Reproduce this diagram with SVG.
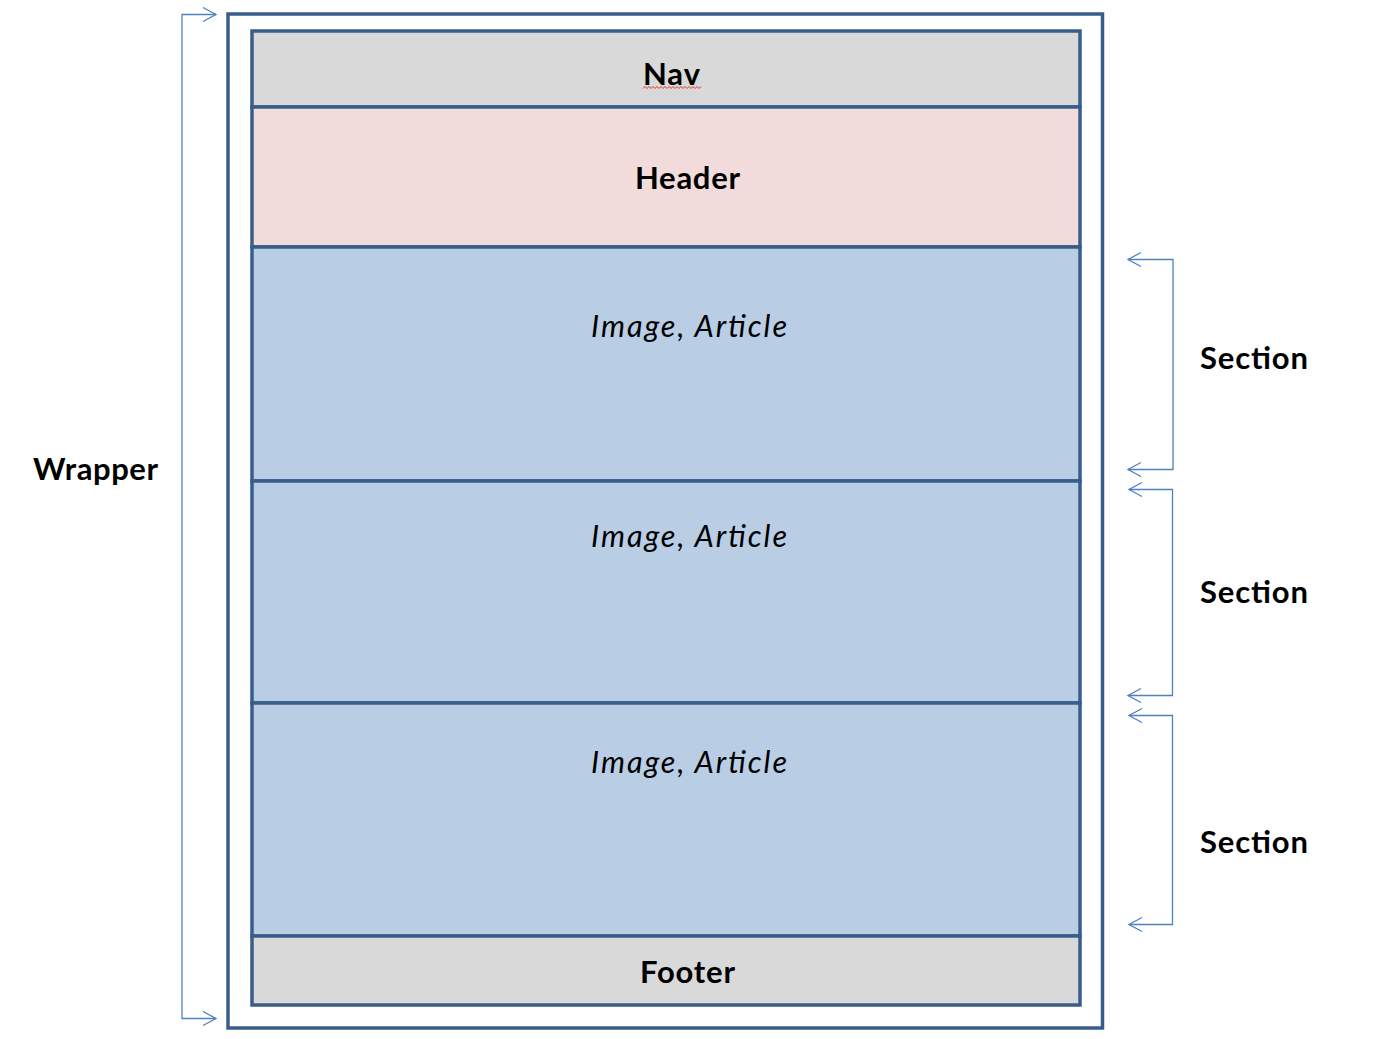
<svg xmlns="http://www.w3.org/2000/svg" width="1392" height="1039" viewBox="0 0 1392 1039">
  <style>
    .box { stroke: #385d8a; stroke-width: 3.5; }
    .gray { fill: #d9d9d9; }
    .pink { fill: #f2dcdb; }
    .blue { fill: #b9cde5; }
    .lbl { font-family: Lato, "Liberation Sans", sans-serif; font-size: 31px; font-weight: bold; fill: #000; }
    .ital { font-family: Lato, "Liberation Sans", sans-serif; font-size: 30.5px; font-style: italic; fill: #000; }
    .br { fill: none; stroke: #4f81bd; stroke-width: 1.3; }
  </style>
  <rect width="1392" height="1039" fill="#ffffff"/>
  <g id="wrapper">
    <rect class="box" x="228" y="14" width="874.5" height="1014" fill="#ffffff"/>
  </g>
  <g id="nav">
    <rect class="box gray" x="252" y="31" width="828" height="76"/>
    <text class="lbl" x="643" y="85" textLength="57" lengthAdjust="spacing">Nav</text>
    <path d="M643 88.5 l2 -2 l2 2 l2 -2 l2 2 l2 -2 l2 2 l2 -2 l2 2 l2 -2 l2 2 l2 -2 l2 2 l2 -2 l2 2 l2 -2 l2 2 l2 -2 l2 2 l2 -2 l2 2 l2 -2 l2 2 l2 -2 l2 2 l2 -2 l2 2 l2 -2 l2 2 l2 -2" fill="none" stroke="#e03030" stroke-width="1"/>
  </g>
  <g id="header">
    <rect class="box pink" x="252" y="107" width="828" height="140"/>
    <text class="lbl" x="635" y="189" textLength="105" lengthAdjust="spacing">Header</text>
  </g>
  <g id="section1">
    <rect class="box blue" x="252" y="247" width="828" height="234"/>
    <text class="ital" x="591" y="336.5" textLength="196" lengthAdjust="spacing">Image, Article</text>
  </g>
  <g id="section2">
    <rect class="box blue" x="252" y="481" width="828" height="222"/>
    <text class="ital" x="591" y="546.5" textLength="196" lengthAdjust="spacing">Image, Article</text>
  </g>
  <g id="section3">
    <rect class="box blue" x="252" y="703" width="828" height="233"/>
    <text class="ital" x="591" y="772.5" textLength="196" lengthAdjust="spacing">Image, Article</text>
  </g>
  <g id="footer">
    <rect class="box gray" x="252" y="936" width="828" height="69"/>
    <text class="lbl" x="640" y="982.5" textLength="95" lengthAdjust="spacing">Footer</text>
  </g>
  <g id="labels">
    <text class="lbl" x="33" y="480" textLength="125" lengthAdjust="spacing">Wrapper</text>
    <text class="lbl" x="1200" y="369" textLength="108" lengthAdjust="spacing">Section</text>
    <text class="lbl" x="1200" y="603" textLength="108" lengthAdjust="spacing">Section</text>
    <text class="lbl" x="1200" y="853" textLength="108" lengthAdjust="spacing">Section</text>
  </g>
  <g id="connectors">
    <path class="br" d="M216 14.5 H182 V1018.5 H216"/>
    <path class="br" d="M203 7.5 L216 14.5 L203 21.5 M203 1011.5 L216 1018.5 L203 1025.5"/>
    <path class="br" d="M1128 259.5 H1173 V469.5 H1128"/>
    <path class="br" d="M1141 252.5 L1128 259.5 L1141 266.5 M1141 462.5 L1128 469.5 L1141 476.5"/>
    <path class="br" d="M1129 489.5 H1172.5 V695.5 H1128"/>
    <path class="br" d="M1142 482.5 L1129 489.5 L1142 496.5 M1141 688.5 L1128 695.5 L1141 702.5"/>
    <path class="br" d="M1129 715.5 H1172.5 V924.5 H1129"/>
    <path class="br" d="M1142 708.5 L1129 715.5 L1142 722.5 M1142 917.5 L1129 924.5 L1142 931.5"/>
  </g>
</svg>
